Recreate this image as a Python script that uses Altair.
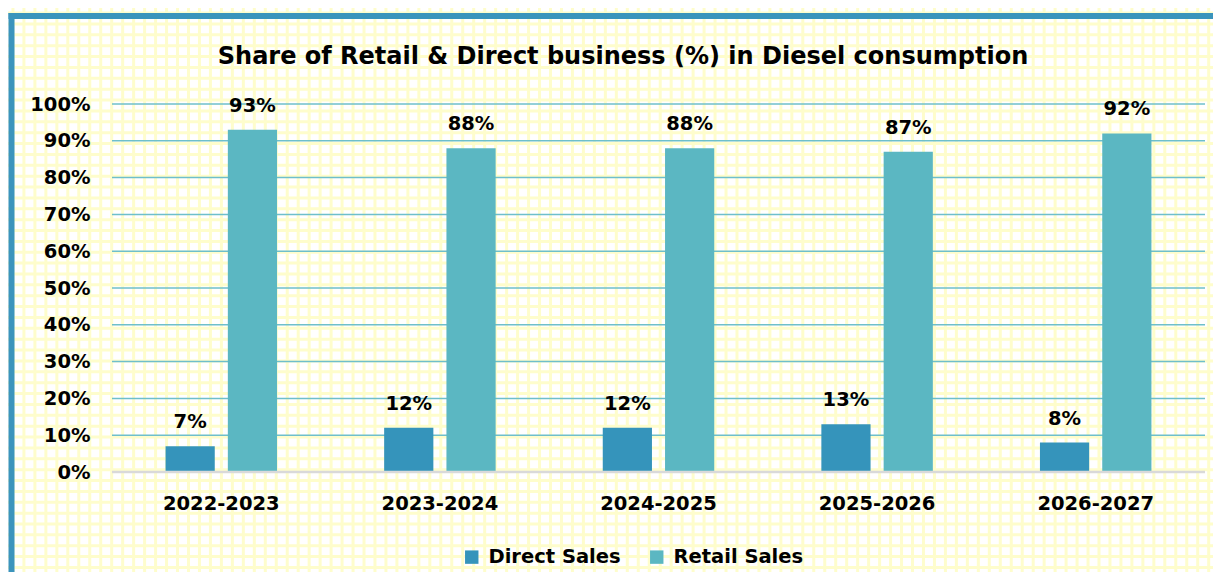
import altair as alt
import pandas as pd

# ---- data ----
years = ["2022-2023", "2023-2024", "2024-2025", "2025-2026", "2026-2027"]
direct_sales = [7, 12, 12, 13, 8]
retail_sales = [93, 88, 88, 87, 92]
series_names = ["Direct Sales", "Retail Sales"]
series_colors = ["#3594BB", "#5BB7C2"]
y_ticks = [0, 10, 20, 30, 40, 50, 60, 70, 80, 90, 100]
title_text = "Share of Retail & Direct business (%) in Diesel consumption"

rows = []
for i, yr in enumerate(years):
    rows.append({"year": yr, "series": series_names[0], "value": direct_sales[i]})
    rows.append({"year": yr, "series": series_names[1], "value": retail_sales[i]})
df = pd.DataFrame(rows)
df["lbl"] = df["value"].astype(str) + "%"
grid_df = pd.DataFrame({"value": y_ticks[1:]})

FONT = "DejaVu Sans"
FS = 19.5
W, H = 1093, 368
PAD = {"left": 104, "top": 96, "right": 8, "bottom": 100}

# ---- graph-paper background (decoration) ----
paper_color = "#FEFDCC"
vlines = (
    alt.Chart(alt.sequence(-10, 102, as_="k"))
    .transform_calculate(px="datum.k * 10.97 - 0.3")
    .mark_rule(color=paper_color, strokeWidth=3)
    .encode(x=alt.X("px:Q", scale=None, axis=None), y=alt.value(-PAD["top"]), y2=alt.value(H + PAD["bottom"]))
)
hlines = (
    alt.Chart(alt.sequence(-50, 20, as_="k"))
    .transform_calculate(py="datum.k * 10.87 + 420")
    .mark_rule(color=paper_color, strokeWidth=3)
    .encode(y=alt.Y("py:Q", scale=None, axis=None), x=alt.value(-PAD["left"]), x2=alt.value(W + PAD["right"]))
)

one = pd.DataFrame({"a": [0]})
border_color = "#3B94BC"
left_border = alt.Chart(one).mark_rule(color=border_color, strokeWidth=6).encode(
    x=alt.value(-100.5), y=alt.value(-91), y2=alt.value(H + PAD["bottom"])
)
top_border = alt.Chart(one).mark_rule(color=border_color, strokeWidth=6).encode(
    x=alt.value(-103.5), x2=alt.value(W + PAD["right"]), y=alt.value(-88)
)

title = alt.Chart(pd.DataFrame({"t": [title_text]})).mark_text(
    font=FONT, fontSize=24, fontWeight="bold", color="black", baseline="middle", align="center"
).encode(text="t:N", x=alt.value(511), y=alt.value(-47))

# ---- bars ----
x_scale = alt.Scale(paddingInner=0.49, paddingOuter=0.245)
y_scale = alt.Scale(domain=[0, 100], nice=False)
off_scale = alt.Scale(paddingInner=0.21, paddingOuter=0)

x_axis = alt.Axis(
    title=None, labelAngle=0, domain=False, ticks=False, labelPadding=22, grid=False, zindex=1,
    labelFont=FONT, labelFontSize=FS, labelFontWeight="bold", labelColor="black",
)
y_axis = alt.Axis(
    title=None, values=y_ticks, labelExpr="datum.value + '%'", domain=False, ticks=False,
    labelPadding=22, labelFont=FONT, labelFontSize=FS, labelFontWeight="bold", labelColor="black",
    labelOverlap=False, grid=False, zindex=1,
)
color_enc = alt.Color(
    "series:N",
    sort=series_names,
    scale=alt.Scale(domain=series_names, range=series_colors),
    legend=alt.Legend(
        title=None, orient="none", legendX=350, legendY=443, direction="horizontal",
        symbolType="square", symbolSize=180, symbolStrokeWidth=0, labelFont=FONT,
        labelFontSize=FS, labelFontWeight="bold", labelColor="black", labelOffset=7,
        columnPadding=26, zindex=1,
    ),
)

def xe():
    return alt.X("year:N", sort=years, scale=x_scale, axis=x_axis)

def ye():
    return alt.Y("value:Q", scale=y_scale, axis=y_axis)

def oe():
    return alt.XOffset("series:N", sort=series_names, scale=off_scale)

gridlines = alt.Chart(grid_df).mark_rule(color="#6EBFCB", strokeWidth=1.5).encode(
    y=ye(), x=alt.value(0), x2=alt.value(W)
)
bars = alt.Chart(df).mark_bar().encode(x=xe(), y=ye(), xOffset=oe(), color=color_enc)
labels = alt.Chart(df).mark_text(
    font=FONT, fontSize=FS, fontWeight="bold", color="black", baseline="alphabetic", dy=-18
).encode(x=xe(), y=ye(), xOffset=oe(), text="lbl:N")

zero_line = alt.Chart(one).mark_rule(color="#D9D9D9", strokeWidth=2.5).encode(
    x=alt.value(0), x2=alt.value(W), y=alt.value(H)
)

main = alt.layer(gridlines, bars, zero_line, labels)

chart = (
    alt.layer(vlines, hlines, left_border, top_border, title, main)
    .resolve_scale(x="independent", y="independent")
    .properties(width=W, height=H, padding=PAD, autosize=alt.AutoSizeParams(type="none"), background="white")
    .configure_view(stroke=None)
)

chart.save("out.html", embed_options={"renderer": "svg", "actions": False})
